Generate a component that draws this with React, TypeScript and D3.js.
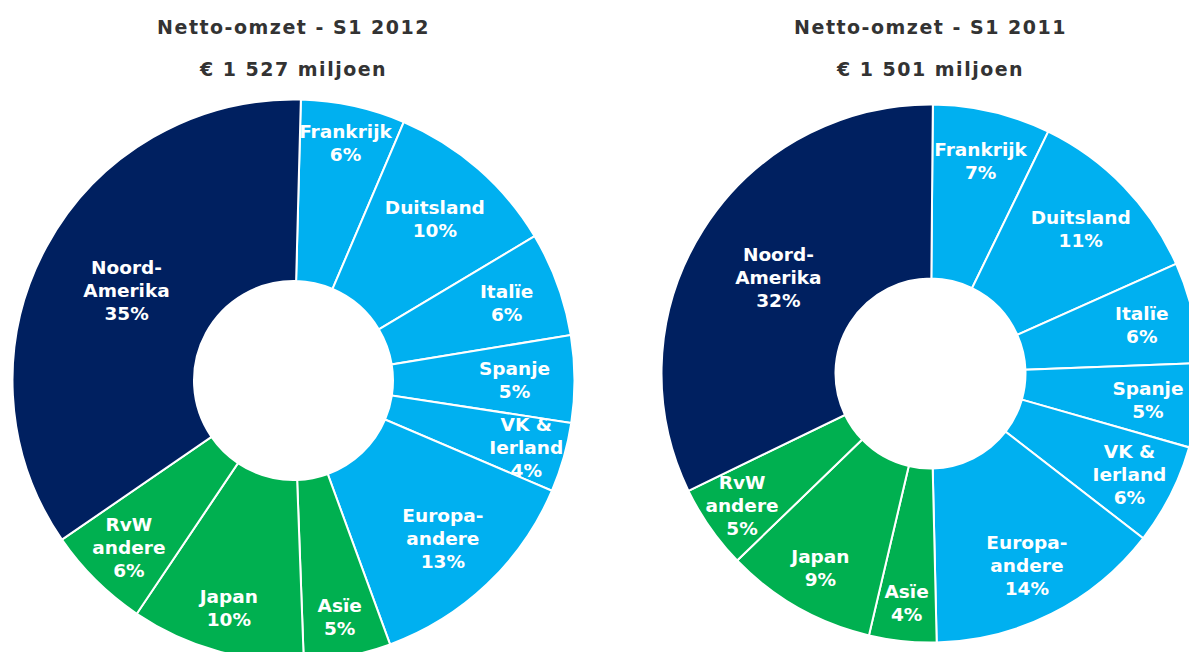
import React from "react";
import * as d3 from "d3";

const categories = [
  "Frankrijk",
  "Duitsland",
  "Italïe",
  "Spanje",
  "VK & Ierland",
  "Europa-andere",
  "Asïe",
  "Japan",
  "RvW andere",
  "Noord-Amerika",
];
const labelLines = [
  ["Frankrijk"],
  ["Duitsland"],
  ["Italïe"],
  ["Spanje"],
  ["VK &", "Ierland"],
  ["Europa-", "andere"],
  ["Asïe"],
  ["Japan"],
  ["RvW", "andere"],
  ["Noord-", "Amerika"],
];
const groups = ["europe", "europe", "europe", "europe", "europe", "europe", "row", "row", "row", "na"];
const values2012 = [6, 10, 6, 5, 4, 13, 5, 10, 6, 35];
const values2011 = [7, 11, 6, 5, 6, 14, 4, 9, 5, 32];
const titles2012 = ["Netto-omzet - S1 2012", "€ 1 527 miljoen"];
const titles2011 = ["Netto-omzet - S1 2011", "€ 1 501 miljoen"];

const colors: Record<string, string> = {
  europe: "#00B0F0",
  row: "#00B050",
  na: "#002060",
};

type ChartCfg = {
  values: number[];
  titles: string[];
  cx: number;
  cy: number;
  outer: number;
  inner: number;
  start: number; // degrees
  labelR: number[];
};

const charts: ChartCfg[] = [
  {
    values: values2012,
    titles: titles2012,
    cx: 293.5,
    cy: 380.5,
    outer: 281,
    inner: 99.5,
    start: 1.5,
    labelR: [244, 215, 227, 221, 242, 217, 240, 236, 234, 190],
  },
  {
    values: values2011,
    titles: titles2011,
    cx: 930.5,
    cy: 373.5,
    outer: 269,
    inner: 95,
    start: 0.5,
    labelR: [219, 209, 217, 219, 223, 214, 230, 223, 230, 180],
  },
];

const FONT = "'DejaVu Sans', Verdana, sans-serif";

function Donut({ cfg }: { cfg: ChartCfg }) {
  const a0 = (cfg.start * Math.PI) / 180;
  const pie = d3
    .pie<number>()
    .sort(null)
    .value((d) => d)
    .startAngle(a0)
    .endAngle(a0 + 2 * Math.PI);
  const arcs = pie(cfg.values);
  const arc = d3
    .arc<d3.PieArcDatum<number>>()
    .innerRadius(cfg.inner)
    .outerRadius(cfg.outer);
  const lh = 23;
  return (
    <g>
      <g transform={`translate(${cfg.cx},${cfg.cy})`}>
        {arcs.map((a, i) => (
          <path
            key={categories[i]}
            d={arc(a) || ""}
            fill={colors[groups[i]]}
            stroke="#ffffff"
            strokeWidth={2}
          />
        ))}
        {arcs.map((a, i) => {
          const mid = (a.startAngle + a.endAngle) / 2;
          const r = cfg.labelR[i];
          const x = Math.sin(mid) * r;
          const y = -Math.cos(mid) * r;
          const lines = [...labelLines[i], `${cfg.values[i]}%`];
          const top = y - ((lines.length - 1) * lh) / 2 + 7;
          return (
            <text
              key={"l" + i}
              textAnchor="middle"
              fill="#ffffff"
              fontFamily={FONT}
              fontWeight="bold"
              fontSize={18.5}
            >
              {lines.map((t, j) => (
                <tspan key={j} x={x} y={top + j * lh}>
                  {t}
                </tspan>
              ))}
            </text>
          );
        })}
      </g>
      {cfg.titles.map((t, j) => (
        <text
          key={"t" + j}
          x={cfg.cx}
          y={34 + j * 42}
          textAnchor="middle"
          fill="#333333"
          fontFamily={FONT}
          fontWeight="bold"
          fontSize={19}
          letterSpacing={1.5}
        >
          {t}
        </text>
      ))}
    </g>
  );
}

export default function App() {
  return (
    <svg
      width={1189}
      height={652}
      style={{ position: "absolute", left: 0, top: 0, background: "#ffffff" }}
    >
      {charts.map((c, i) => (
        <Donut key={i} cfg={c} />
      ))}
    </svg>
  );
}
